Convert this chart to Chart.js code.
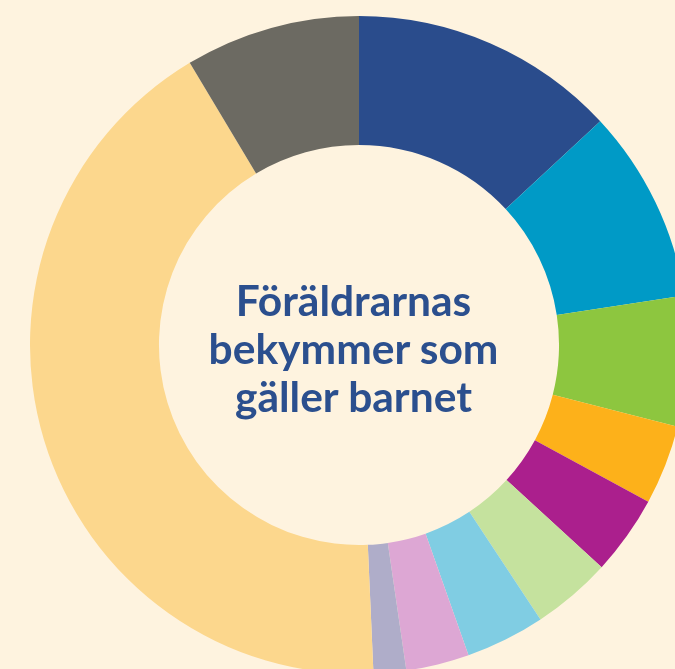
<!DOCTYPE html>
<html>
<head>
<meta charset="utf-8">
<script src="https://cdn.jsdelivr.net/npm/chart.js@4.4.1/dist/chart.umd.min.js"></script>
<style>
  html, body {
    margin: 0;
    padding: 0;
    width: 675px;
    height: 669px;
    overflow: hidden;
    background: #fef3df;
  }
  #wrap {
    position: absolute;
    left: 29.5px;
    top: 16px;
    width: 658px;
    height: 658px;
  }
  .title {
    position: absolute;
    left: 153.5px;
    top: 276px;
    width: 400px;
    text-align: center;
    font-family: Lato, sans-serif;
    font-weight: bold;
    font-size: 42.5px;
    line-height: 48px;
    color: #2b4f8e;
  }
</style>
</head>
<body>
<div id="wrap"><canvas id="donut" width="658" height="658"></canvas></div>
<div class="title">Föräldrarnas<br>bekymmer som<br>gäller barnet</div>

<script>
// slices, clockwise from the top (share of the whole, %)
let categories = ["A", "B", "C", "D", "E", "F", "G", "H", "I", "J", "K"];
let values = [13.1, 9.5, 6.4, 3.9, 3.9, 3.9, 3.9, 3.1, 1.6, 42.1, 8.6];
let colors = [
  "#2a4c8c",
  "#009ac6",
  "#8dc63f",
  "#fdb11a",
  "#ab1f8d",
  "#c5e29e",
  "#80cde3",
  "#dda7d4",
  "#afadc9",
  "#fcd78d",
  "#6c6a62",
];

let donut = new Chart(document.getElementById("donut"), {
  type: "doughnut",
  data: {
    labels: categories,
    datasets: [
      {
        data: values,
        backgroundColor: colors,
        borderWidth: 0,
        hoverOffset: 0,
      },
    ],
  },
  options: {
    responsive: false,
    animation: false,
    cutout: "60.8%",
    layout: { padding: 0 },
    plugins: {
      legend: { display: false },
      tooltip: { enabled: false },
    },
  },
});
</script>
</body>
</html>
